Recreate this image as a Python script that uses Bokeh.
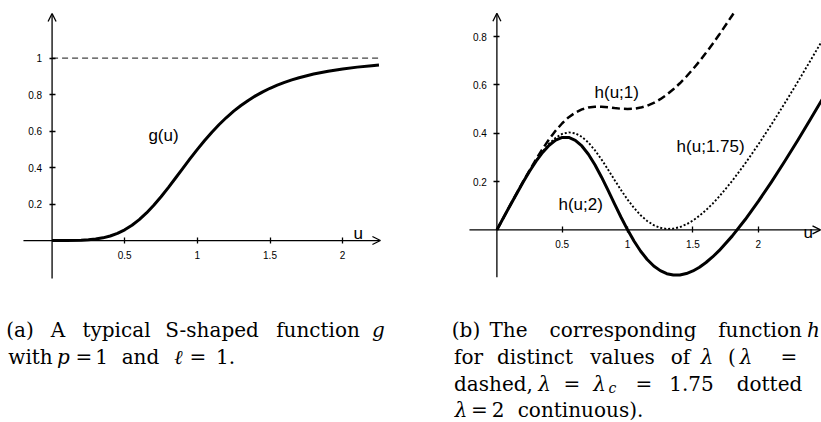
from bokeh.plotting import figure
from bokeh.models import Range1d, FixedTicker, Arrow, OpenHead, Label, LinearAxis
from bokeh.layouts import column, row
from bokeh.embed import file_html
from bokeh.resources import INLINE

# ---------------- data ----------------
# panel (a): S-shaped function g(u)
u_a = [0, 0.1, 0.2, 0.25, 0.3, 0.35, 0.4, 0.45, 0.5, 0.55, 0.6, 0.65, 0.7, 0.75,
       0.8, 0.85, 0.9, 0.95, 1.0, 1.05, 1.1, 1.15, 1.2, 1.25, 1.3, 1.35, 1.4, 1.45,
       1.5, 1.55, 1.6, 1.65, 1.7, 1.8, 1.9, 2.0, 2.1, 2.2, 2.25]
g_a = [0, 0.0001, 0.0016, 0.0039, 0.0080, 0.0148, 0.0250, 0.0394, 0.0588, 0.0838,
       0.1147, 0.1515, 0.1936, 0.2404, 0.2905, 0.3430, 0.3962, 0.4489, 0.5000,
       0.5487, 0.5942, 0.6362, 0.6747, 0.7094, 0.7407, 0.7686, 0.7935, 0.8155,
       0.8351, 0.8523, 0.8676, 0.8811, 0.8931, 0.9130, 0.9287, 0.9412, 0.9511,
       0.9591, 0.9625]
asym_u = [0, 2.26]
asym_y = [1, 1]
x_ticks_a = [0.5, 1.0, 1.5, 2.0]
x_labels_a = ["0.5", "1", "1.5", "2"]
y_ticks_a = [0.2, 0.4, 0.6, 0.8, 1.0]
y_labels_a = ["0.2", "0.4", "0.6", "0.8", "1"]

# panel (b): h(u; lambda)
u_b = [0, 0.1, 0.2, 0.25, 0.3, 0.35, 0.4, 0.45, 0.5, 0.55, 0.6, 0.65, 0.7, 0.75,
       0.8, 0.85, 0.9, 0.95, 1.0, 1.05, 1.1, 1.15, 1.2, 1.25, 1.3, 1.35, 1.4, 1.45,
       1.5, 1.55, 1.6, 1.65, 1.7, 1.8, 1.9, 2.0, 2.1, 2.2, 2.3, 2.4, 2.5]
u_h1 = [0, 0.1, 0.2, 0.25, 0.3, 0.35, 0.4, 0.45, 0.5, 0.55, 0.6, 0.65, 0.7, 0.75,
        0.8, 0.85, 0.9, 0.95, 1.0, 1.05, 1.1, 1.15, 1.2, 1.25, 1.3, 1.35, 1.4, 1.45,
        1.5, 1.55, 1.6, 1.65, 1.7, 1.8, 1.81]
h_1 = [0, 0.0999, 0.1984, 0.2461, 0.2920, 0.3352, 0.3750, 0.4106, 0.4412, 0.4662,
       0.4853, 0.4985, 0.5064, 0.5096, 0.5095, 0.5070, 0.5038, 0.5011, 0.5000,
       0.5013, 0.5058, 0.5138, 0.5253, 0.5406, 0.5593, 0.5814, 0.6065, 0.6345,
       0.6649, 0.6977, 0.7324, 0.7689, 0.8069, 0.8870, 0.8952]
h_175 = [0, 0.0998, 0.1972, 0.2432, 0.2860, 0.3241, 0.3563, 0.3811, 0.3971, 0.4033,
         0.3993, 0.3849, 0.3612, 0.3294, 0.2916, 0.2498, 0.2066, 0.1644, 0.1250,
         0.0899, 0.0601, 0.0366, 0.0193, 0.0085, 0.0038, 0.0050, 0.0114, 0.0228,
         0.0386, 0.0584, 0.0817, 0.1080, 0.1371, 0.2022, 0.2748, 0.3529, 0.4356,
         0.5216, 0.6104, 0.7013, 0.7937]
h_2 = [0, 0.0998, 0.1968, 0.2422, 0.2840, 0.3204, 0.3500, 0.3712, 0.3824, 0.3823,
       0.3706, 0.3471, 0.3128, 0.2693, 0.2190, 0.1641, 0.1076, 0.0522, 0.0,
       -0.0473, -0.0884, -0.1225, -0.1494, -0.1688, -0.1814, -0.1872, -0.1870,
       -0.1810, -0.1702, -0.1547, -0.1352, -0.1122, -0.0862, -0.0260, 0.0426,
       0.1176, 0.1978, 0.2818, 0.3690, 0.4586, 0.5500]
x_ticks_b = [0.5, 1.0, 1.5, 2.0]
x_labels_b = ["0.5", "1", "1.5", "2"]
y_ticks_b = [0.2, 0.4, 0.6, 0.8]
y_labels_b = ["0.2", "0.4", "0.6", "0.8"]

SANS = "Liberation Sans"
SERIF = "DejaVu Serif"


def math_axes(p, xt, xl, yt, yl, xspan, yspan):
    xa = LinearAxis(fixed_location=0, ticker=FixedTicker(ticks=xt),
                    major_label_overrides=dict(zip(xt, xl)))
    ya = LinearAxis(fixed_location=0, ticker=FixedTicker(ticks=yt),
                    major_label_overrides=dict(zip(yt, yl)))
    for ax in (xa, ya):
        ax.axis_line_color = None
        ax.major_tick_in = 3
        ax.major_tick_out = 3
        ax.major_tick_line_width = 1.3
        ax.major_tick_line_color = "black"
        ax.minor_tick_line_color = None
        ax.major_label_text_font = SANS
        ax.major_label_text_font_size = "10px"
        ax.major_label_text_color = "black"
        ax.major_label_standoff = 7
    p.add_layout(xa, "below")
    p.add_layout(ya, "left")
    p.add_layout(Arrow(end=OpenHead(size=8, line_width=1.3, line_color="black"),
                       x_start=xspan[0], y_start=0, x_end=xspan[1], y_end=0,
                       line_width=1.3, line_color="black"))
    p.add_layout(Arrow(end=OpenHead(size=8, line_width=1.3, line_color="black"),
                       x_start=0, y_start=yspan[0], x_end=0, y_end=yspan[1],
                       line_width=1.3, line_color="black"))


def base_fig(w, h, xr, yr):
    p = figure(width=w, height=h, x_range=Range1d(*xr), y_range=Range1d(*yr),
               output_backend="svg", toolbar_location=None,
               x_axis_location=None, y_axis_location=None, min_border=0)
    p.grid.visible = False
    p.outline_line_color = None
    p.background_fill_color = "white"
    p.border_fill_color = "white"
    return p


# ---------------- panel (a) ----------------
pa = base_fig(410, 290, (-0.355, 2.467), (-0.274, 1.3165))
math_axes(pa, x_ticks_a, x_labels_a, y_ticks_a, y_labels_a, (-0.197, 2.26), (-0.208, 1.245))
pa.line(asym_u, asym_y, line_color="#444444", line_width=1.2, line_dash="6 4")
pa.line(u_a, g_a, line_color="black", line_width=3, line_join="round")
pa.add_layout(Label(x=0.663, y=0.576, text="g(u)", text_font=SANS, text_font_size="17px",
                    text_baseline="middle", text_color="black"))
pa.add_layout(Label(x=2.074, y=0.038, text="u", text_font=SANS, text_font_size="17px",
                    text_baseline="alphabetic", text_color="black"))

# ---------------- panel (b) ----------------
pb = base_fig(411, 290, (-0.661, 2.4836), (-0.251, 0.949))
math_axes(pb, x_ticks_b, x_labels_b, y_ticks_b, y_labels_b, (-0.210, 2.476), (-0.196, 0.896))
pb.line(u_h1, h_1, line_color="black", line_width=2.5, line_dash="8 4")
pb.line(u_b, h_175, line_color="black", line_width=1.9, line_dash="2 2")
pb.line(u_b, h_2, line_color="black", line_width=3, line_join="round")
for x, y, t in [(0.747, 0.568, "h(u;1)"), (1.375, 0.345, "h(u;1.75)"), (0.471, 0.105, "h(u;2)")]:
    pb.add_layout(Label(x=x, y=y, text=t, text_font=SANS, text_font_size="17px",
                        text_baseline="middle", text_color="black"))
pb.add_layout(Label(x=2.345, y=-0.011, text="u", text_font=SANS, text_font_size="17px",
                    text_baseline="alphabetic", text_color="black"))

# ---------------- captions ----------------
pc = base_fig(821, 132, (0, 821), (422, 290))
R, I = "normal", "italic"
L1, L2, L3, L4 = 329, 356, 383, 409
words = [
    # caption (a)
    (19.5, L1, "(a)", R), (57.5, L1, "A", R), (116, L1, "typical", R),
    (211.5, L1, "S-shaped", R), (317.5, L1, "function", R), (378, L1, "g", I),
    (30, L2, "with", R), (63, L2, "p", I), (83.5, L2, "=", R), (101, L2, "1", R),
    (140, L2, "and", R), (178, L2, "ℓ", I), (197.5, L2, "=", R), (225, L2, "1.", R),
    # caption (b)
    (465.5, L1, "(b)", R), (508, L1, "The", R), (622.5, L1, "corresponding", R),
    (759.5, L1, "function", R), (813, L1, "h", I),
    (468, L2, "for", R), (534.5, L2, "distinct", R), (622, L2, "values", R),
    (680, L2, "of", R), (706.5, L2, "λ", I), (731.5, L2, "(", R), (745.5, L2, "λ", I),
    (788.5, L2, "=", R),
    (493, L3, "dashed,", R), (544, L3, "λ", I), (571.5, L3, "=", R), (599, L3, "λ", I),
    (643.5, L3, "=", R), (691, L3, "1.75", R), (769, L3, "dotted", R),
    (460.5, L4, "λ", I), (479, L4, "=", R), (497.5, L4, "2", R),
    (580, L4, "continuous).", R),
]
for x, y, t, st in words:
    pc.add_layout(Label(x=x, y=y, text=t, text_font=SERIF, text_font_size="20px",
                        text_font_style=st, text_align="center",
                        text_baseline="alphabetic", text_color="black"))
pc.add_layout(Label(x=612, y=L3 + 4, text="c", text_font=SERIF, text_font_size="14px",
                    text_font_style="italic", text_align="center",
                    text_baseline="alphabetic", text_color="black"))

layout = column(row(pa, pb), pc)
open("out.html", "w").write(file_html(layout, INLINE))
